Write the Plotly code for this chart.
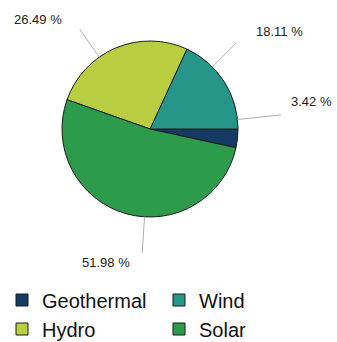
import math
import plotly.graph_objects as go

# ---- data ----
labels = ["Geothermal", "Wind", "Hydro", "Solar"]
shares = [3.42, 18.11, 26.49, 51.98]
colors = ["#143a66", "#27968a", "#b8ce40", "#2c9b4c"]

# ---- layout constants (pixels) ----
W, H = 337, 342
cx, cy, R = 150, 129, 88
line_len = [44, 33, 34, 36]
# label centre offsets from the end of the leader line (px)
label_off = [(30, -13), (44, -12), (-42, -10), (-36, 10)]


def px2paper(x, y):
    return x / W, 1 - y / H


fig = go.Figure(
    go.Pie(
        labels=labels,
        values=shares,
        sort=False,
        direction="counterclockwise",
        rotation=90,
        marker=dict(colors=colors, line=dict(color="#1a1a1a", width=1)),
        textinfo="none",
        hoverinfo="label+percent",
        domain=dict(
            x=[(cx - R) / W, (cx + R) / W],
            y=[1 - (cy + R) / H, 1 - (cy - R) / H],
        ),
    )
)

total = sum(shares)
start = 0.0
shapes = []
annotations = []
for i, v in enumerate(shares):
    mid = start + v / total * 360 / 2
    start += v / total * 360
    a = math.radians(mid)
    x0, y0 = cx + R * math.cos(a), cy - R * math.sin(a)
    x1, y1 = cx + (R + line_len[i]) * math.cos(a), cy - (R + line_len[i]) * math.sin(a)
    p0 = px2paper(x0, y0)
    p1 = px2paper(x1, y1)
    shapes.append(dict(type="line", xref="paper", yref="paper",
                       x0=p0[0], y0=p0[1], x1=p1[0], y1=p1[1],
                       line=dict(color="#b0b0b0", width=1)))
    lx, ly = px2paper(x1 + label_off[i][0], y1 + label_off[i][1])
    annotations.append(dict(x=lx, y=ly, xref="paper", yref="paper",
                            xanchor="center", yanchor="middle",
                            text=f"{v:.2f} %", showarrow=False,
                            font=dict(size=13, color="#222222",
                                      family="Liberation Sans, Arial, sans-serif")))

fig.update_layout(
    width=W, height=H,
    margin=dict(l=0, r=0, t=0, b=0, autoexpand=False),
    paper_bgcolor="white",
    plot_bgcolor="white",
    shapes=shapes,
    annotations=annotations,
    showlegend=True,
    legend=dict(
        orientation="h",
        x=2 / W, xanchor="left",
        y=-6.5 / H, yanchor="bottom",
        entrywidth=112, entrywidthmode="pixels",
        font=dict(size=20, color="#111111", family="Liberation Sans, Arial, sans-serif"),
        traceorder="normal",
        itemclick=False,
    ),
)

fig.write_html("out.html")
